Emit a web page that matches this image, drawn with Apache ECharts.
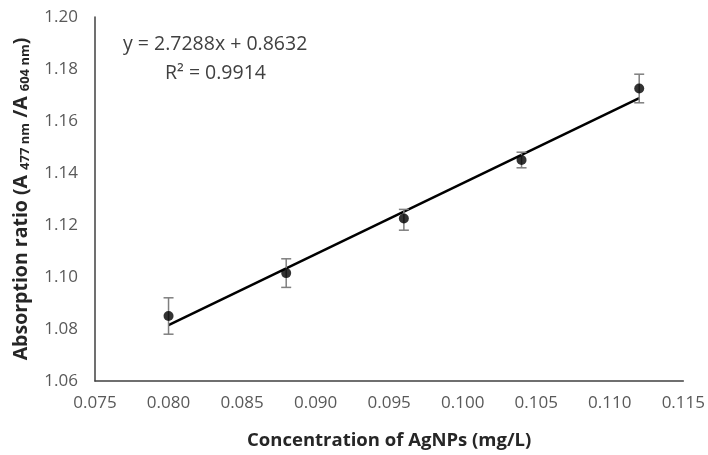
<!DOCTYPE html>
<html><head><meta charset="utf-8">
<script src="https://cdn.jsdelivr.net/npm/echarts@6/dist/echarts.min.js"></script>
<style>html,body{margin:0;padding:0;background:#fff}#c{width:708px;height:455px}</style>
</head><body><div id="c"></div>
<script>
const concentrations = [0.080, 0.088, 0.096, 0.104, 0.112];
const ratios = [1.085, 1.1015, 1.1225, 1.145, 1.1725];
const errLow = [1.078, 1.096, 1.118, 1.142, 1.167];
const errHigh = [1.092, 1.107, 1.126, 1.148, 1.178];
const trendX = [0.080, 0.112];
const trendY = [1.0815, 1.1688];
const equationText = 'y = 2.7288x + 0.8632';
const r2Text = 'R² = 0.9914';

const chart = echarts.init(document.getElementById('c'));
const font = '"Open Sans", "Liberation Sans", sans-serif';
chart.setOption({
  animation: false,
  grid: {left: 95, right: 23, top: 17, bottom: 73},
  xAxis: {
    type: 'value', min: 0.075, max: 0.115, interval: 0.005,
    axisLine: {lineStyle: {color: '#404040', width: 1.5}},
    axisTick: {show: false}, splitLine: {show: false},
    axisLabel: {color: '#595959', fontSize: 17, fontFamily: font, margin: 14,
      formatter: v => v.toFixed(3)},
    name: 'Concentration of AgNPs (mg/L)', nameLocation: 'middle', nameGap: 50,
    nameTextStyle: {fontSize: 18.5, fontWeight: 'bold', color: '#262626', fontFamily: font}
  },
  yAxis: {
    type: 'value', min: 1.06, max: 1.20, interval: 0.02,
    axisLine: {show: true, lineStyle: {color: '#404040', width: 1.5}},
    axisTick: {show: false}, splitLine: {show: false},
    axisLabel: {color: '#595959', fontSize: 17, fontFamily: font, margin: 17,
      formatter: v => v.toFixed(2)},
    name: '{a|Absorption ratio (A }{s|477 nm}{a| /A }{s|604 nm}{a|)}',
    nameLocation: 'middle', nameGap: 63, nameRotate: 90,
    nameTextStyle: {
      rich: {
        a: {fontSize: 19.5, fontWeight: 'bold', color: '#262626', fontFamily: font},
        s: {fontSize: 13, fontWeight: 'bold', color: '#262626', fontFamily: font, padding: [9, 0, 0, 0]}
      }
    }
  },
  graphic: [
    {type: 'text', left: 123, top: 34, style: {text: equationText, fontSize: 19.5, fill: '#404040', fontFamily: font}},
    {type: 'text', left: 165, top: 63, style: {text: r2Text, fontSize: 19.5, fill: '#404040', fontFamily: font}}
  ],
  series: [
    {
      type: 'line', data: trendX.map((x, i) => [x, trendY[i]]),
      symbol: 'none', lineStyle: {color: '#000', width: 2.5}, z: 3
    },
    {
      type: 'custom', z: 4,
      data: concentrations.map((x, i) => [x, errLow[i], errHigh[i]]),
      renderItem: (params, api) => {
        const lo = api.coord([api.value(0), api.value(1)]);
        const hi = api.coord([api.value(0), api.value(2)]);
        const w = 5;
        const st = {stroke: '#7f7f7f', lineWidth: 1.5};
        return {type: 'group', children: [
          {type: 'line', shape: {x1: lo[0], y1: lo[1], x2: hi[0], y2: hi[1]}, style: st},
          {type: 'line', shape: {x1: lo[0]-w, y1: lo[1], x2: lo[0]+w, y2: lo[1]}, style: st},
          {type: 'line', shape: {x1: hi[0]-w, y1: hi[1], x2: hi[0]+w, y2: hi[1]}, style: st}
        ]};
      }
    },
    {
      type: 'scatter', data: concentrations.map((x, i) => [x, ratios[i]]),
      symbol: 'circle', symbolSize: 10, itemStyle: {color: '#000'}, z: 5
    }
  ]
});
</script></body></html>
